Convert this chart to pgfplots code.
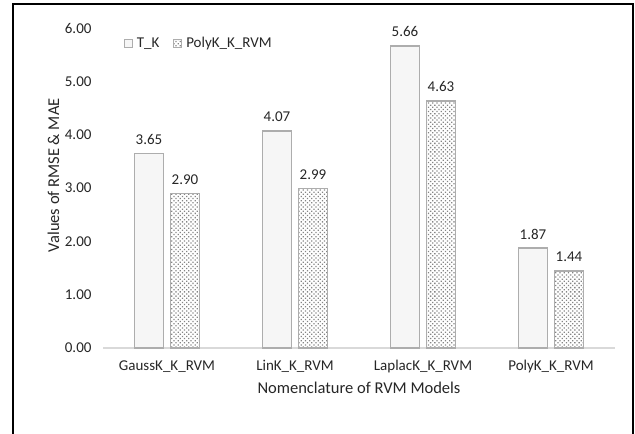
\documentclass[border=0pt]{standalone}
\usepackage{pgfplots}
\pgfplotsset{compat=1.18}
\usepackage{fontspec}
\setmainfont{Carlito}
\usetikzlibrary{patterns.meta}

\definecolor{barline}{HTML}{ADADAD}
\definecolor{dotfine}{HTML}{909090}
\definecolor{dotcoarse}{HTML}{858585}
\definecolor{axisline}{HTML}{D9D9D9}
\definecolor{txt}{HTML}{262626}

\begin{document}
\begin{tikzpicture}
\useasboundingbox (0pt,0pt) rectangle (635pt,434pt);
% outer frame (open at the bottom)
\draw[black, line width=2pt] (13pt,0pt) -- (13pt,429.5pt) -- (632.5pt,429.5pt) -- (632.5pt,0pt);

\begin{axis}[
  at={(103pt,86pt)}, anchor=south west,
  scale only axis,
  width=512pt, height=320pt,
  xmin=-0.5, xmax=3.5,
  ymin=0, ymax=6,
  ytick={0,1,2,3,4,5,6},
  xtick={0,1,2,3},
  xticklabels={GaussK\_K\_RVM, LinK\_K\_RVM, LaplacK\_K\_RVM, PolyK\_K\_RVM},
  axis x line*=bottom,
  axis y line*=left,
  x axis line style={axisline, line width=1.2pt, -},
  y axis line style={draw=none},
  major tick length=0pt,
  tick style={draw=none},
  /pgf/number format/assume math mode=true,
  yticklabel={\pgfmathprintnumber[fixed, fixed zerofill, precision=2]{\tick}},
  yticklabel style={font=\fontsize{15}{17}\selectfont, text=txt, xshift=-8pt},
  xticklabel style={font=\fontsize{15}{17}\selectfont, text=txt, yshift=-9pt},
  xlabel={Nomenclature of RVM Models},
  xlabel style={font=\fontsize{16.5}{19}\selectfont, text=txt, yshift=-2pt},
  ylabel={Values of RMSE \& MAE},
  ylabel style={font=\fontsize{16.5}{19}\selectfont, text=txt,
    at={(ticklabel cs:0.54)}, anchor=south, inner sep=2pt},
  clip=false,
  ybar, bar width=29pt,
  nodes near coords,
  nodes near coords style={font=\fontsize{15}{17}\selectfont, text=txt, anchor=south, yshift=5pt,
    /pgf/number format/.cd, fixed, fixed zerofill, precision=2},
  legend columns=2,
  legend style={draw=none, fill=none, at={(0.035,0.953)}, anchor=west,
    font=\fontsize{15}{17}\selectfont, text=txt,
    /tikz/every odd column/.append style={column sep=2pt},
    /tikz/every even column/.append style={column sep=12pt}},
  legend image code/.code={\draw[#1, line width=0.8pt] (0pt,-4pt) rectangle (8pt,4pt);},
]
\addplot[bar shift=-18pt, draw=barline, line width=1.6pt,
  pattern={Dots[radius=0.45pt, distance=2pt]}, pattern color=dotfine]
  coordinates {(0,3.65) (1,4.07) (2,5.66) (3,1.87)};
\addplot[bar shift=18pt, draw=barline, line width=1.6pt,
  pattern={Dots[radius=0.9pt, distance=3pt, angle=45]}, pattern color=dotcoarse]
  coordinates {(0,2.90) (1,2.99) (2,4.63) (3,1.44)};
\legend{T\_K, PolyK\_K\_RVM}
\end{axis}
\end{tikzpicture}
\end{document}
